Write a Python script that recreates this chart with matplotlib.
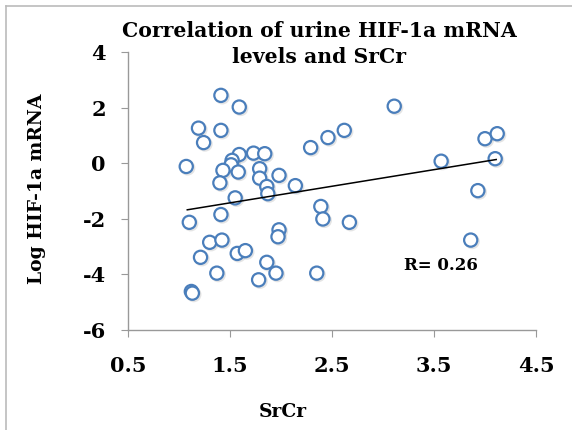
import matplotlib
matplotlib.use('Agg')
import matplotlib.pyplot as plt
import matplotlib.patheffects as pe
from matplotlib.lines import Line2D

# SrCr vs log HIF-1a mRNA
srcr = [1.07, 1.41, 1.59, 1.19, 1.41, 1.24, 1.59, 1.73, 1.84, 1.52,
        1.51, 1.43, 1.58, 1.79, 1.79, 1.98, 1.40, 1.86, 1.87, 2.14,
        1.55, 1.10, 1.41, 1.30, 1.42, 1.21, 1.57, 1.65, 1.98, 1.97,
        1.86, 1.95, 1.37, 1.78, 1.12, 1.13, 3.11, 2.29, 2.46, 2.62,
        3.57, 4.00, 4.12, 4.10, 3.93, 3.86, 2.39, 2.41, 2.67, 2.35]
log_hif = [-0.12, 2.44, 2.02, 1.26, 1.18, 0.74, 0.31, 0.36, 0.34, 0.10,
           -0.06, -0.26, -0.32, -0.20, -0.54, -0.44, -0.71, -0.84, -1.10, -0.81,
           -1.25, -2.13, -1.85, -2.85, -2.77, -3.39, -3.25, -3.15, -2.40, -2.65,
           -3.57, -3.96, -3.96, -4.20, -4.62, -4.68, 2.05, 0.56, 0.92, 1.18,
           0.07, 0.88, 1.06, 0.16, -0.99, -2.77, -1.56, -2.01, -2.13, -3.96]

trend_x = [1.08, 4.11]
trend_y = [-1.68, 0.13]

xticks = [0.5, 1.5, 2.5, 3.5, 4.5]
yticks = [-6, -4, -2, 0, 2, 4]

plt.rcParams['font.family'] = 'DejaVu Serif'
plt.rcParams['font.weight'] = 'bold'

fig = plt.figure(figsize=(5.72, 4.30), dpi=100)
ax = fig.add_axes([0.224, 0.233, 0.713, 0.646])

ax.plot(srcr, log_hif, 'o', ls='none', ms=9.5, mew=1.6,
        mec='#4a7ebb', mfc='white',
        path_effects=[pe.SimpleLineShadow(offset=(1, -1), shadow_color='#888888', alpha=0.22),
                      pe.Normal()])
ax.plot(trend_x, trend_y, color='black', lw=1.1)

ax.set_xlim(0.5, 4.5)
ax.set_ylim(-6, 4)
ax.set_xticks(xticks)
ax.set_yticks(yticks)
ax.set_xticklabels([f'{t:.1f}' for t in xticks])
ax.set_yticklabels([str(t) for t in yticks])
ax.tick_params(labelsize=15, length=5, color='#999999', direction='out')
ax.tick_params(axis='x', pad=14)
ax.tick_params(axis='y', pad=11)

for s in ['top', 'right']:
    ax.spines[s].set_visible(False)
for s in ['left', 'bottom']:
    ax.spines[s].set_color('#999999')
    ax.spines[s].set_linewidth(1.0)

ax.text(3.57, -3.7, 'R= 0.26', fontsize=12, fontweight='bold', ha='center', va='center')

fig.text(0.558, 0.898, 'Correlation of urine HIF-1a mRNA\nlevels and SrCr', fontsize=14.7,
         fontweight='bold', ha='center', va='center', linespacing=1.4)
fig.text(0.065, 0.56, 'Log HIF-1a mRNA', fontsize=13.5, fontweight='bold',
         rotation=90, ha='center', va='center')
fig.text(0.495, 0.042, 'SrCr', fontsize=13.5, fontweight='bold', ha='center', va='center')

# frame round the chart (only left and top edges show)
fig.add_artist(Line2D([0.011, 0.011], [0, 0.987], color='#bbbbbb', lw=1.2))
fig.add_artist(Line2D([0.011, 1], [0.987, 0.987], color='#bbbbbb', lw=1.2))

fig.savefig('out.png', dpi=100)
